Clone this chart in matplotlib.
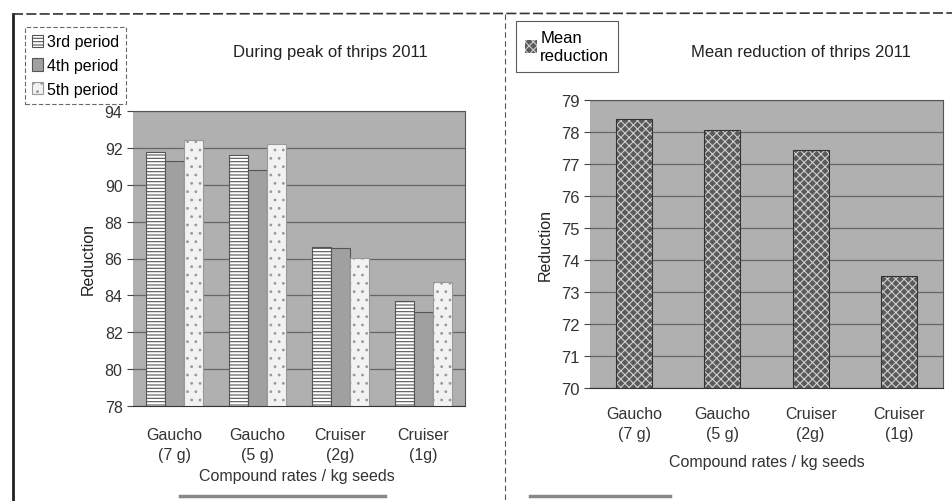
import matplotlib
matplotlib.use("Agg")
import matplotlib.pyplot as plt
import numpy as np
from matplotlib.lines import Line2D

plt.rcParams['font.family'] = ['Liberation Sans', 'DejaVu Sans']
plt.rcParams['hatch.linewidth'] = 0.8

categories = ["Gaucho\n(7 g)", "Gaucho\n(5 g)", "Cruiser\n(2g)", "Cruiser\n(1g)"]
period3 = [91.8, 91.6, 86.6, 83.7]
period4 = [91.3, 90.8, 86.55, 83.1]
period5 = [92.4, 92.2, 86.05, 84.7]
mean_reduction = [78.4, 78.05, 77.45, 73.5]

left_ticks = [78, 80, 82, 84, 86, 88, 90, 92, 94]
right_ticks = [70, 71, 72, 73, 74, 75, 76, 77, 78, 79]

W, H = 953, 502
fig = plt.figure(figsize=(W / 100, H / 100), dpi=100)
fig.patch.set_facecolor('white')

bg = '#b0b0b0'
grid_c = '#666666'
FS = 11.5

def ax_rect(l, r, t, b):
    return [l / W, 1 - b / H, (r - l) / W, (b - t) / H]

# ---------- left chart ----------
ax1 = fig.add_axes(ax_rect(133, 465, 112, 407))
ax1.set_facecolor(bg)
x = np.arange(len(categories))
bw = 0.225
b3 = ax1.bar(x - bw, [v - 78 for v in period3], bw, bottom=78, facecolor='white',
             edgecolor='#555555', hatch='-----', linewidth=0.8, zorder=3, label='3rd period')
b4 = ax1.bar(x, [v - 78 for v in period4], bw, bottom=78, facecolor='#a0a0a0',
             edgecolor='#555555', linewidth=0.8, zorder=3, label='4th period')
b5 = ax1.bar(x + bw, [v - 78 for v in period5], bw, bottom=78, facecolor='#f2f2f2',
             edgecolor='#999999', hatch='..', linewidth=0.8, zorder=3, label='5th period')
ax1.set_xlim(-0.5, 3.5)
ax1.set_ylim(78, 94)
ax1.set_yticks(left_ticks)
ax1.set_xticks(x)
ax1.set_xticklabels(categories, fontsize=FS, color='#333333', linespacing=1.45)
ax1.tick_params(axis='y', labelsize=FS, labelcolor='#333333', length=4, color='#444444')
ax1.tick_params(axis='x', length=0, pad=15)
ax1.yaxis.grid(True, color=grid_c, linewidth=0.9, zorder=1)
ax1.set_axisbelow(True)
for s in ['top', 'right']:
    ax1.spines[s].set_color('#555555')
    ax1.spines[s].set_linewidth(0.8)
ax1.spines['left'].set_visible(False)
ax1.spines['bottom'].set_color('#333333')
ax1.set_ylabel('Reduction', fontsize=FS, color='#222222', labelpad=6)
ax1.set_xlabel('Compound rates / kg seeds', fontsize=FS, color='#333333')
ax1.xaxis.set_label_coords(0.495, -0.21)

fig.text(330 / W, 1 - 52 / H, 'During peak of thrips 2011', ha='center', va='center',
         fontsize=12, color='#222222')
leg1 = fig.legend(handles=[b3, b4, b5], loc='upper left',
                  bbox_to_anchor=(25 / W, 1 - 28 / H), fontsize=FS, frameon=True,
                  handlelength=0.7, handleheight=0.8, handletextpad=0.2,
                  borderpad=0.45, labelspacing=0.55, fancybox=False, borderaxespad=0)
leg1.get_frame().set_edgecolor('#444444')
leg1.get_frame().set_linestyle((0, (4, 2)))
leg1.get_frame().set_linewidth(0.8)

# ---------- right chart ----------
ax2 = fig.add_axes(ax_rect(590, 943, 101, 389))
ax2.set_facecolor(bg)
bw2 = 0.41
bm = ax2.bar(x, [v - 70 for v in mean_reduction], bw2, bottom=70, facecolor='#5a5a5a',
             edgecolor='#cfcfcf', hatch='xxxx', linewidth=0.0, zorder=3, label='Mean\nreduction')
ax2.bar(x, [v - 70 for v in mean_reduction], bw2, bottom=70, facecolor='none',
        edgecolor='#333333', linewidth=0.8, zorder=4)
ax2.set_xlim(-0.5, 3.5)
ax2.set_ylim(70, 79)
ax2.set_yticks(right_ticks)
ax2.set_xticks(x)
ax2.set_xticklabels(categories, fontsize=FS, color='#333333', linespacing=1.45)
ax2.tick_params(axis='y', labelsize=12, labelcolor='#333333', length=4, color='#444444')
ax2.tick_params(axis='x', length=0, pad=13)
ax2.yaxis.grid(True, color=grid_c, linewidth=0.9, zorder=1)
ax2.set_axisbelow(True)
for s in ['top', 'right']:
    ax2.spines[s].set_color('#555555')
    ax2.spines[s].set_linewidth(0.8)
ax2.spines['left'].set_visible(False)
ax2.spines['bottom'].set_color('#333333')
ax2.set_ylabel('Reduction', fontsize=FS, color='#222222', labelpad=6)
ax2.set_xlabel('Compound rates / kg seeds', fontsize=FS, color='#333333', labelpad=9)

fig.text(801 / W, 1 - 52 / H, 'Mean reduction of thrips 2011', ha='center', va='center',
         fontsize=12, color='#222222')
leg2 = fig.legend(handles=[bm], loc='upper left',
                  bbox_to_anchor=(516 / W, 1 - 22 / H), fontsize=12, frameon=True,
                  handlelength=0.7, handleheight=0.8, handletextpad=0.2,
                  borderpad=0.55, fancybox=False, borderaxespad=0)
leg2.get_frame().set_edgecolor('#333333')
leg2.get_frame().set_linewidth(0.8)

# ---------- page frame lines ----------
fig.add_artist(Line2D([13 / W, 13 / W], [1 - 15 / H, 0], color='#222222', linewidth=2))
fig.add_artist(Line2D([13 / W, 1], [1 - 15 / H, 1 - 14 / H], color='#333333',
                      linewidth=1.2, linestyle=(0, (6, 2))))
fig.add_artist(Line2D([505 / W, 505 / W], [1 - 15 / H, 0], color='#555555',
                      linewidth=0.8, linestyle=(0, (5, 3))))
fig.add_artist(Line2D([180 / W, 385 / W], [1 - 497 / H, 1 - 497 / H], color='#888888',
                      linewidth=2.5))
fig.add_artist(Line2D([530 / W, 670 / W], [1 - 497 / H, 1 - 497 / H], color='#888888',
                      linewidth=2.5))

fig.savefig('out.png', dpi=100, facecolor='white')
